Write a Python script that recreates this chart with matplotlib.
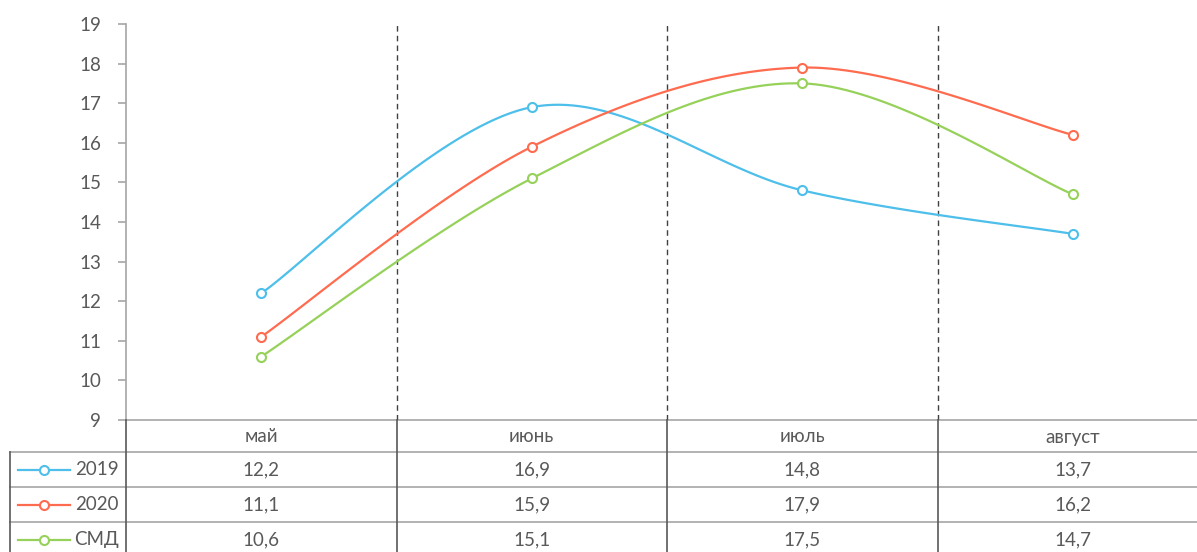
import numpy as np
import matplotlib
matplotlib.use("Agg")
import matplotlib.pyplot as plt
from matplotlib.transforms import blended_transform_factory

plt.rcParams['font.family'] = ['Lato', 'DejaVu Sans']

months = ['май', 'июнь', 'июль', 'август']
names = ['2019', '2020', 'СМД']
v2019 = [12.2, 16.9, 14.8, 13.7]
v2020 = [11.1, 15.9, 17.9, 16.2]
vsmd = [10.6, 15.1, 17.5, 14.7]
colors = ['#4DBFEA', '#FF6B4F', '#96D15A']
series = [v2019, v2020, vsmd]

TXT = '#595959'
GRID = '#A6A6A6'
FS = 13.5


def smooth(xs, ys, n=40):
    # bezier through points, control points like excel "smoothed line"
    p = np.column_stack([xs, ys]).astype(float)
    out = []
    for i in range(len(p) - 1):
        p0 = p[max(i - 1, 0)]
        p1 = p[i]
        p2 = p[i + 1]
        p3 = p[min(i + 2, len(p) - 1)]
        c1 = p1 + (p2 - p0) / 6
        c2 = p2 - (p3 - p1) / 6
        t = np.linspace(0, 1, n)[:, None]
        seg = ((1 - t) ** 3) * p1 + 3 * ((1 - t) ** 2) * t * c1 + 3 * (1 - t) * t ** 2 * c2 + t ** 3 * p2
        out.append(seg)
    out = np.vstack(out)
    return out[:, 0], out[:, 1]


W, H = 1197, 552
fig = plt.figure(figsize=(W / 100, H / 100), dpi=100)

# main plot area in pixels: x 126..1208, y 24..420
ax = fig.add_axes([126 / W, (H - 420) / H, (1208 - 126) / W, 396 / H])
x = np.arange(len(months))
for vals, c in zip(series, colors):
    sx, sy = smooth(x, vals)
    ax.plot(sx, sy, color=c, lw=1.6, zorder=3)
    ax.plot(x, vals, 'o', ms=6.5, mfc='white', mec=c, mew=1.5, zorder=4)

ax.set_xlim(-0.5, len(months) - 0.5)
ax.set_ylim(9, 19)
ax.set_yticks(range(9, 20))
ax.set_xticks([])
for b in np.arange(0.5, len(months) - 1, 1.0):
    ax.axvline(b, color='#404040', lw=1, ls=(0, (4, 3)), zorder=1)
for s in ['top', 'right']:
    ax.spines[s].set_visible(False)
ax.spines['left'].set_color(GRID)
ax.spines['bottom'].set_color(GRID)
ax.spines['left'].set_linewidth(1.2)
ax.spines['bottom'].set_linewidth(1.2)
ax.tick_params(axis='y', colors=GRID, labelcolor=TXT, labelsize=FS, length=6, width=1.2, pad=12)
ax.spines['bottom'].set_zorder(0)

# data table below, y in pixels
axt = fig.add_axes([0, -5 / H, 1, 137 / H])
axt.set_xlim(0, W)
axt.set_ylim(557, 420)
axt.axis('off')
tr = blended_transform_factory(ax.transData, axt.transData)

rows_y = [420, 452, 487, 522, 557]
for yy in rows_y[1:4]:
    axt.plot([10, W], [yy, yy], color=GRID, lw=1.2, clip_on=False)
axt.plot([10, 10], [452, 557], color='#595959', lw=1.2, clip_on=False)
for b in np.arange(-0.5, len(months), 1.0):
    axt.plot([b, b], [420, 557], color='#595959', lw=1.2, transform=tr, clip_on=False)

for i, m in enumerate(months):
    axt.text(i, 437, m, transform=tr, ha='center', va='center', fontsize=FS, color=TXT)
for r, (nm, vals, c) in enumerate(zip(names, series, colors)):
    yc = (rows_y[r + 1] + rows_y[r + 2]) / 2
    axt.plot([18, 70], [yc, yc], color=c, lw=1.6, clip_on=False)
    axt.plot([44], [yc], 'o', ms=6.5, mfc='white', mec=c, mew=1.5, clip_on=False)
    axt.text(119, yc, nm, ha='right', va='center', fontsize=FS, color=TXT)
    for i, v in enumerate(vals):
        axt.text(i, yc, f'{v:.1f}'.replace('.', ','), transform=tr, ha='center', va='center',
                 fontsize=FS, color=TXT)

fig.savefig('out.png', dpi=100)
